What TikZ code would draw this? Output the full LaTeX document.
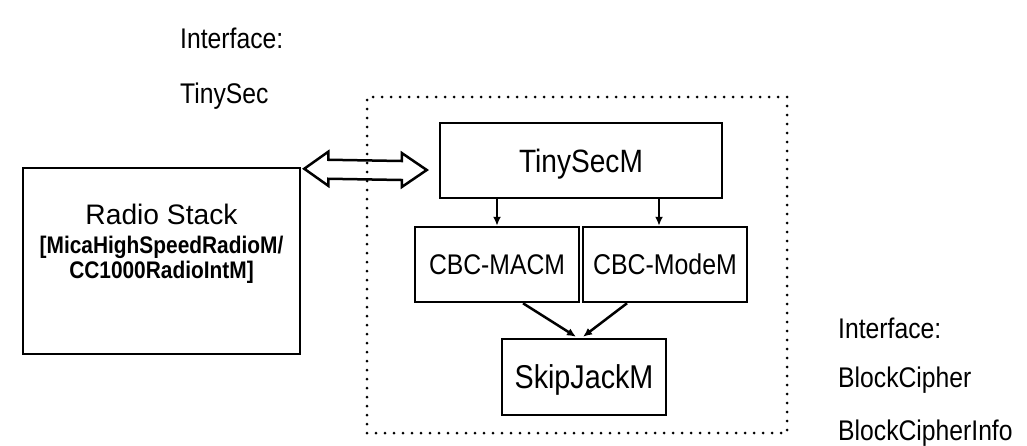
\documentclass[tikz,border=0pt]{standalone}
\usepackage{fontspec}
\setmainfont{Liberation Sans}
\newfontfamily\narrowsans{Liberation Sans}[FakeStretch=0.87]
\usetikzlibrary{calc,arrows.meta}

\tikzset{
  module/.style={draw, line width=2.5pt, inner sep=0pt, text depth=0pt},
  plainlabel/.style={inner sep=0pt, anchor=base west,
    font=\narrowsans\fontsize{28.4}{34}\selectfont},
  stacklabel/.style={inner sep=0pt, anchor=base},
  conn/.style={line width=2.5pt, -{Latex[length=9pt,width=8pt]}},
  hollow/.style={line width=2.5pt, line join=miter},
  boundary/.style={draw, line width=3pt, line cap=round,
    dash pattern=on 0pt off 9pt, inner sep=0pt},
}

\begin{document}
\begin{tikzpicture}[x=1pt, y=-1pt]
  \useasboundingbox (0,0) rectangle (1027,445);
  \fill[white] (0,0) rectangle (1027,445);

  % interface labels
  \node[plainlabel] (ifacetop) at (180,48) {Interface:};
  \node[plainlabel] (tinysecif) at (180,103) {TinySec};
  \node[plainlabel] (ifacebot) at (838,338) {Interface:};
  \node[plainlabel] (bcif) at (838,387) {BlockCipher};
  \node[plainlabel] (bcinfoif) at (838,440) {BlockCipherInfo};

  % radio stack
  \node[module, minimum width=277pt, minimum height=186pt] (radio) at (161.5,261) {};
  \node[stacklabel, font=\fontsize{28.2}{32}\selectfont] (rs1) at (161.5,224) {Radio Stack};
  \node[stacklabel, font=\narrowsans\bfseries\fontsize{24}{28}\selectfont] (rs2) at (161.5,253) {[MicaHighSpeedRadioM/};
  \node[stacklabel, font=\narrowsans\bfseries\fontsize{24}{28}\selectfont] (rs3) at (161.5,278) {CC1000RadioIntM]};

  % TinySec modules
  \node[module, minimum width=282pt, minimum height=75pt, text height=23pt,
        font=\narrowsans\fontsize{32.3}{36}\selectfont] (tinysec) at (581,160.5) {TinySecM};
  \node[module, minimum width=164pt, minimum height=75pt, text height=20.4pt,
        font=\narrowsans\fontsize{28.4}{34}\selectfont] (macm) at (497,264.5) {CBC-MACM};
  \node[module, minimum width=164pt, minimum height=75pt, text height=20.4pt,
        font=\narrowsans\fontsize{28.6}{34}\selectfont] (modem) at (665,264.5) {CBC-ModeM};
  \node[module, minimum width=164pt, minimum height=76pt, text height=23.6pt,
        font=\narrowsans\fontsize{33}{38}\selectfont] (skipjack) at (584,377) {SkipJackM};

  % hollow double arrow between the radio stack and TinySecM
  \coordinate (ltip) at ($(radio.north east)+(3,2)$);
  \coordinate (rtip) at ($(tinysec.west)+(-12,9.5)$);
  \draw[hollow] (ltip) -- ++(24,-17) -- ++(0,8) -- ($(rtip)+(-25,-9)$)
    -- ++(0,-8) -- (rtip) -- ++(-25,17) -- ++(0,-7) -- ($(ltip)+(24,10)$)
    -- ++(0,7) -- cycle;

  % dotted component boundary
  \node[boundary, minimum width=420pt, minimum height=336pt] (component) at (577,265) {};

  % wiring
  \coordinate (modein) at ($(modem.north)+(-6,0)$);
  \draw[conn] (tinysec.south -| macm.north) -- (macm.north);
  \draw[conn] (tinysec.south -| modein) -- (modein);
  \draw[conn] ($(macm.south)+(26,0)$) -- ($(skipjack.north)+(-8,-1)$);
  \draw[conn] ($(modem.south)+(-38,0)$) -- ($(skipjack.north)+(-1,-1)$);
\end{tikzpicture}
\end{document}
